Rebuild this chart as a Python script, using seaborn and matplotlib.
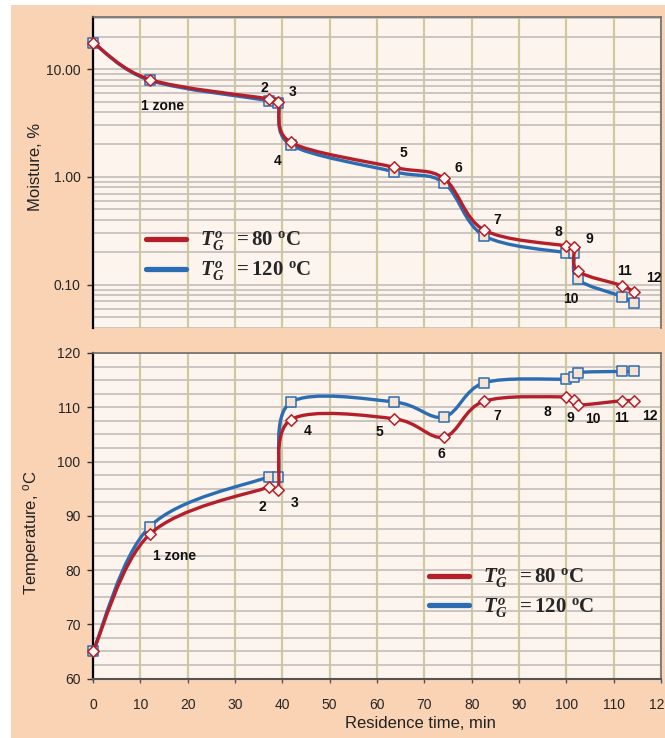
import numpy as np
import pandas as pd
import matplotlib
matplotlib.use("Agg")
import matplotlib.pyplot as plt
import seaborn as sns
from matplotlib.path import Path
from matplotlib.patches import PathPatch, Rectangle
from matplotlib.lines import Line2D
from matplotlib.ticker import FixedLocator, FixedFormatter, MultipleLocator, LogLocator, NullFormatter

# ---------------- data ----------------
time_min = [0, 12, 37.2, 39.1, 41.8, 63.5, 74.1, 82.6, 99.9, 101.6, 102.4, 111.8, 114.3]
moist_80 = [17.6, 8.0, 5.28, 4.95, 2.09, 1.23, 0.97, 0.322, 0.229, 0.222, 0.134, 0.098, 0.086]
moist_120 = [17.6, 7.87, 5.09, 4.81, 1.98, 1.12, 0.884, 0.285, 0.198, 0.196, 0.112, 0.0775, 0.0673]
temp_80 = [65, 86.6, 95.3, 94.8, 107.7, 107.9, 104.5, 111.1, 111.9, 111.3, 110.4, 111.2, 111.2]
temp_120 = [65, 88.0, 97.2, 97.2, 110.9, 111.0, 108.2, 114.5, 115.2, 115.5, 116.4, 116.6, 116.6]

point_labels = ["1 zone", "2", "3", "4", "5", "6", "7", "8", "9", "10", "11", "12"]
moist_label_t = [14.7, 36.2, 42.1, 39.1, 65.6, 77.2, 85.3, 98.4, 104.8, 101.0, 112.2, 118.5]
moist_label_y = [4.53, 6.63, 6.17, 1.41, 1.65, 1.22, 0.398, 0.306, 0.266, 0.0738, 0.134, 0.115]
temp_label_t = [17.3, 35.7, 42.5, 45.3, 60.5, 73.6, 85.3, 96.0, 100.8, 105.7, 111.6, 117.6]
temp_label_y = [82.6, 91.6, 92.4, 105.6, 105.5, 101.3, 108.3, 109.1, 108.1, 107.9, 108.0, 108.3]

x_ticks = list(range(0, 121, 10))
moist_ticks = [0.1, 1, 10]
moist_ticklabels = ["0.10", "1.00", "10.00"]
temp_ticks = list(range(60, 121, 10))
series_names = [r"$T_G^o\;\;= 80\ {}^{\mathrm{o}}\mathrm{C}$",
                r"$T_G^o\;\;= 120\ {}^{\mathrm{o}}\mathrm{C}$"]

# ---------------- style ----------------
sns.set_style("white")
plt.rcParams["font.family"] = ["Liberation Sans", "DejaVu Sans"]
plt.rcParams["mathtext.fontset"] = "custom"
plt.rcParams["mathtext.rm"] = "Liberation Serif:bold"
plt.rcParams["mathtext.it"] = "Liberation Serif:italic:bold"
plt.rcParams["mathtext.bf"] = "Liberation Serif:bold"
plt.rcParams["mathtext.sf"] = "Liberation Sans"

RED = "#b3202b"
BLUE = "#2b6cb3"
RED_FACE = "#fff6f0"
BLUE_FACE = "#f6e3d2"
PEACH = "#f9d3b4"
AX_BG = "#fdf4ee"
VGRID = "#d2c89e"
HGRID = "#c6c2bd"

W, H = 665, 738
fig = plt.figure(figsize=(W / 100, H / 100), dpi=100, facecolor="white")
fig.patches.append(Rectangle((11 / W, 0), 1 - 11 / W, 1 - 5 / H, transform=fig.transFigure,
                             facecolor=PEACH, edgecolor="none", zorder=-10))

def px_axes(l, t, r, b):
    return fig.add_axes([l / W, 1 - b / H, (r - l) / W, (b - t) / H])

ax1 = px_axes(93, 17, 661, 328)
ax2 = px_axes(93, 353, 661, 678.5)

for ax in (ax1, ax2):
    ax.set_facecolor(AX_BG)
    ax.set_xlim(0, 120)
    ax.xaxis.set_major_locator(FixedLocator(x_ticks))
    ax.grid(axis="x", which="major", color=VGRID, lw=1.6, zorder=0)
    ax.set_axisbelow(True)
    ax.spines["left"].set_color("black")
    ax.spines["left"].set_linewidth(1.6)
    for s in ("top", "right"):
        ax.spines[s].set_color("#6e6e6e")
        ax.spines[s].set_linewidth(1.2)

# top panel (log moisture)
ax1.set_yscale("log")
ax1.set_ylim(0.0397, 30.4)
ax1.yaxis.set_major_locator(FixedLocator(moist_ticks))
ax1.yaxis.set_major_formatter(FixedFormatter(moist_ticklabels))
ax1.yaxis.set_minor_locator(LogLocator(base=10, subs=np.arange(2, 10)))
ax1.yaxis.set_minor_formatter(NullFormatter())
ax1.grid(axis="y", which="both", color=HGRID, lw=1.3, zorder=0)
ax1.spines["bottom"].set_visible(False)
ax1.tick_params(axis="x", length=0, labelbottom=False)
ax1.tick_params(axis="y", which="major", direction="out", length=4, width=1, color="#333333",
                labelsize=10, pad=5, left=True)
ax1.tick_params(axis="y", which="minor", length=0)

# bottom panel (temperature)
ax2.set_ylim(60, 120)
ax2.yaxis.set_major_locator(FixedLocator(temp_ticks))
ax2.yaxis.set_minor_locator(MultipleLocator(2.5))
ax2.grid(axis="y", which="both", color=HGRID, lw=1.3, zorder=0)
ax2.spines["bottom"].set_color("#555555")
ax2.spines["bottom"].set_linewidth(1.5)
ax2.set_xticklabels([str(v) for v in x_ticks])
ax2.tick_params(axis="x", direction="out", length=3, width=1, color="#555555",
                labelsize=10, pad=11, bottom=True)
ax2.tick_params(axis="y", which="major", direction="out", length=4, width=1, color="#333333",
                labelsize=10, pad=5, left=True)
ax2.tick_params(axis="y", which="minor", length=0)


def smooth_curve(ax, x, y, color, lw, z):
    """Excel-like smoothed line through the data points (Bezier path in data coords)."""
    P = ax.transData.transform(np.column_stack([x, y]))
    n = len(P)
    verts = [P[0]]
    codes = [Path.MOVETO]
    for i in range(n - 1):
        p0 = P[i - 1] if i > 0 else P[i]
        p1, p2 = P[i], P[i + 1]
        p3 = P[i + 2] if i + 2 < n else P[i + 1]
        d12 = np.hypot(*(p2 - p1))
        t1 = (p2 - p0) / 6.0
        t2 = (p3 - p1) / 6.0
        for tv in (t1, t2):
            nv = np.hypot(*tv)
            if nv > d12 / 2 and nv > 0:
                tv *= (d12 / 2) / nv
        verts += [p1 + t1, p2 - t2, p2]
        codes += [Path.CURVE4] * 3
    data_verts = ax.transData.inverted().transform(np.array(verts))
    ax.add_patch(PathPatch(Path(data_verts, codes), fill=False, edgecolor=color, lw=lw,
                           zorder=z, capstyle="round", joinstyle="round"))


df_m = pd.DataFrame({"t": time_min, "m80": moist_80, "m120": moist_120})
df_t = pd.DataFrame({"t": time_min, "T80": temp_80, "T120": temp_120})

for ax, df, c80, c120 in ((ax1, df_m, "m80", "m120"), (ax2, df_t, "T80", "T120")):
    smooth_curve(ax, df["t"], df[c120], BLUE, 2.4, 3)
    sns.scatterplot(data=df, x="t", y=c120, marker="s", s=46, color=BLUE_FACE,
                    edgecolor=BLUE, linewidth=1.1, ax=ax, zorder=4, legend=False, clip_on=False)
    smooth_curve(ax, df["t"], df[c80], RED, 2.4, 5)
    sns.scatterplot(data=df, x="t", y=c80, marker="D", s=34, color=RED_FACE,
                    edgecolor=RED, linewidth=1.1, ax=ax, zorder=6, legend=False, clip_on=False)
    ax.set_xlim(0, 120)

for lab, tx, ty in zip(point_labels, moist_label_t, moist_label_y):
    ax1.text(tx, ty, lab, ha="center", va="center", fontsize=10, fontweight="bold",
             color="#111111", zorder=7, clip_on=False)
for lab, tx, ty in zip(point_labels, temp_label_t, temp_label_y):
    ax2.text(tx, ty, lab, ha="center", va="center", fontsize=10, fontweight="bold",
             color="#111111", zorder=7, clip_on=False)

ax1.set_xlabel("")
ax1.set_ylabel("Moisture, %", fontsize=12, color="#222222")
ax1.yaxis.set_label_coords((36 - 93) / 568, (328 - 167) / 311)
ax1.yaxis.label.set_va("center")

ax2.set_ylabel(r"Temperature, $\mathsf{{}^{o}}$C", fontsize=12, color="#222222")
ax2.yaxis.set_label_coords((32 - 93) / 568, (678.5 - 533) / 325.5)
ax2.yaxis.label.set_va("center")
ax2.set_xlabel("Residence time, min", fontsize=12, color="#222222")
ax2.xaxis.set_label_coords((420 - 93) / 568, -(723 - 678.5) / 325.5)
ax2.xaxis.label.set_va("center")

handles = [Line2D([0], [0], color=RED, lw=3.8), Line2D([0], [0], color=BLUE, lw=3.8)]
for ax, (lx, ly) in ((ax1, (146, 256.5)), (ax2, (429, 593))):
    ax.legend(handles, series_names, loc="center left", bbox_to_anchor=(lx / W, 1 - ly / H),
              bbox_transform=fig.transFigure, frameon=False, fontsize=15, handlelength=1.9,
              handletextpad=0.7, labelspacing=0.3, borderpad=0, borderaxespad=0)

fig.savefig("out.png", dpi=100, facecolor=fig.get_facecolor())
